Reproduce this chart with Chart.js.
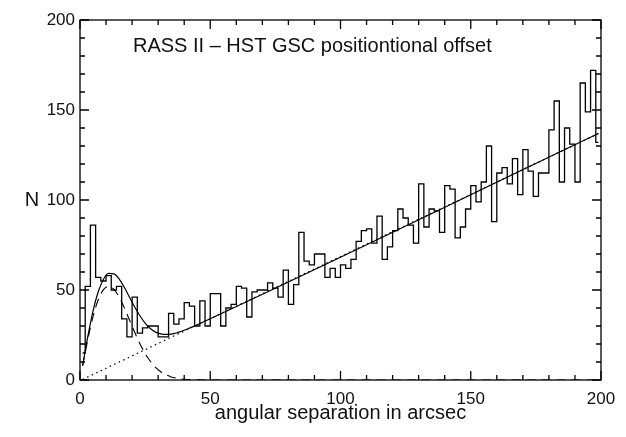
<!DOCTYPE html>
<html>
<head>
<meta charset="utf-8">
<script src="https://cdn.jsdelivr.net/npm/chart.js@4.4.0/dist/chart.umd.min.js"></script>
<style>
  html, body { margin: 0; padding: 0; background: #fff; }
  #wrap { width: 626px; height: 437px; }
</style>
</head>
<body>
<div id="wrap"><canvas id="offsetChart"></canvas></div>
<script>
// bin centres (arcsec), 2" bins
var binCenters = [
  1, 3, 5, 7, 9, 11, 13, 15, 17, 19,
  21, 23, 25, 27, 29, 31, 33, 35, 37, 39,
  41, 43, 45, 47, 49, 51, 53, 55, 57, 59,
  61, 63, 65, 67, 69, 71, 73, 75, 77, 79,
  81, 83, 85, 87, 89, 91, 93, 95, 97, 99,
  101, 103, 105, 107, 109, 111, 113, 115, 117, 119,
  121, 123, 125, 127, 129, 131, 133, 135, 137, 139,
  141, 143, 145, 147, 149, 151, 153, 155, 157, 159,
  161, 163, 165, 167, 169, 171, 173, 175, 177, 179,
  181, 183, 185, 187, 189, 191, 193, 195, 197, 199
];
var counts = [
  15, 52, 86, 57, 55, 58, 50, 52, 34, 24,
  46, 26, 29, 30, 30, 24, 24, 37, 31, 34,
  43, 41, 30, 44, 30, 48, 48, 30, 40, 42,
  52, 51, 35, 49, 50, 50, 54, 51, 46, 61,
  42, 53, 82, 66, 64, 70, 70, 57, 62, 57,
  64, 62, 67, 77, 83, 84, 76, 91, 67, 74,
  83, 95, 90, 86, 76, 109, 85, 95, 94, 82,
  108, 106, 79, 85, 95, 108, 99, 110, 130, 88,
  115, 118, 109, 123, 103, 128, 116, 102, 115, 115,
  139, 155, 110, 140, 131, 110, 165, 149, 172, 132
];

// fitted curves
var fitR = [1, 3, 5, 7, 9, 11, 13, 15, 17, 19, 21, 23, 25, 27, 29, 31, 33, 35, 37, 39, 41, 43, 45, 199];
var fitTotal = [8.1, 24.2, 38.3, 49.0, 56.0, 59.2, 59.0, 56.2, 51.5, 46.0, 40.6, 35.7, 31.6, 28.6, 26.6, 25.6, 25.3, 25.5, 26.1, 27.1, 28.2, 29.4, 30.7, 136.9];
var compR = [1, 3, 5, 7, 9, 11, 13, 15, 17, 19, 21, 23, 25, 27, 29, 31, 33, 35, 37, 39, 41, 43, 45, 47, 199];
var compValues = [7.8, 22.5, 35.2, 44.6, 50.2, 52.0, 50.4, 46.2, 40.2, 33.3, 26.5, 20.2, 14.7, 10.4, 7.0, 4.6, 2.9, 1.7, 1.0, 0.6, 0.3, 0.2, 0.1, 0, 0];
var bgR = [1, 199];
var bgValues = [0.3, 136.9];

var xTickLabels = [0, 50, 100, 150, 200];
var yTickLabels = [0, 50, 100, 150, 200];

var textFont = '"Liberation Sans", Arial, sans-serif';

function pairs(xs, ys) {
    return xs.map(function (x, i) { return { x: x, y: ys[i] }; });
}

// IDL style box: frame, inward ticks on all sides, inner title, y title
var boxAxes = {
    id: 'boxAxes',
    afterDraw: function (chart) {
        var ctx = chart.ctx;
        var a = chart.chartArea;
        var xs = chart.scales.x, ys = chart.scales.y;
        ctx.save();
        ctx.strokeStyle = '#000';
        ctx.lineWidth = 1.3;
        ctx.strokeRect(a.left, a.top, a.right - a.left, a.bottom - a.top);
        ctx.beginPath();
        xs.ticks.forEach(function (t) {
            var px = xs.getPixelForValue(t.value);
            var len = xTickLabels.indexOf(t.value) >= 0 ? 9 : 5;
            ctx.moveTo(px, a.bottom); ctx.lineTo(px, a.bottom - len);
            ctx.moveTo(px, a.top); ctx.lineTo(px, a.top + len);
        });
        ys.ticks.forEach(function (t) {
            var py = ys.getPixelForValue(t.value);
            var len = yTickLabels.indexOf(t.value) >= 0 ? 9 : 5;
            ctx.moveTo(a.left, py); ctx.lineTo(a.left + len, py);
            ctx.moveTo(a.right, py); ctx.lineTo(a.right - len, py);
        });
        ctx.stroke();

        ctx.fillStyle = '#111';
        ctx.font = '20px ' + textFont;
        ctx.textBaseline = 'middle';
        ctx.textAlign = 'left';
        ctx.fillText('RASS II \u2013 HST GSC positiontional offset', a.left + 53, a.top + 26);
        ctx.textAlign = 'center';
        ctx.fillText('N', a.left - 48, (a.top + a.bottom) / 2);
        ctx.restore();
    }
};

var ctx = document.getElementById('offsetChart');

var offsetChart = new Chart(ctx, {
    type: 'line',
    data: {
        datasets: [
            {
                data: pairs(binCenters, counts),
                stepped: 'middle',
                borderColor: '#000',
                borderWidth: 1.3,
                pointRadius: 0,
                fill: false
            },
            {
                data: pairs(fitR, fitTotal),
                borderColor: '#000',
                borderWidth: 1.2,
                cubicInterpolationMode: 'monotone',
                pointRadius: 0,
                fill: false
            },
            {
                data: pairs(compR, compValues),
                borderColor: '#000',
                borderWidth: 1.1,
                borderDash: [9, 6],
                cubicInterpolationMode: 'monotone',
                pointRadius: 0,
                fill: false
            },
            {
                data: pairs(bgR, bgValues),
                borderColor: '#000',
                borderWidth: 1.2,
                borderDash: [1.5, 3.5],
                pointRadius: 0,
                fill: false
            }
        ]
    },
    options: {
        responsive: true,
        maintainAspectRatio: false,
        animation: false,
        layout: { padding: { left: 0, right: 25, top: 20, bottom: 0 } },
        plugins: {
            legend: { display: false },
            tooltip: { enabled: false }
        },
        scales: {
            x: {
                type: 'linear',
                min: 0,
                max: 200,
                afterFit: function (scale) { scale.height = 57; },
                grid: { display: false, drawTicks: false },
                border: { display: false },
                ticks: {
                    stepSize: 10,
                    autoSkip: false,
                    maxRotation: 0,
                    padding: 9,
                    color: '#111',
                    font: { family: textFont, size: 17 },
                    callback: function (v) { return xTickLabels.indexOf(v) >= 0 ? String(v) : ''; }
                },
                title: {
                    display: true,
                    text: 'angular separation in arcsec',
                    color: '#111',
                    font: { family: textFont, size: 20 },
                    padding: { top: 0, bottom: 12 }
                }
            },
            y: {
                type: 'linear',
                min: 0,
                max: 200,
                afterFit: function (scale) { scale.width = 80; },
                grid: { display: false, drawTicks: false },
                border: { display: false },
                ticks: {
                    stepSize: 10,
                    autoSkip: false,
                    padding: 5,
                    color: '#111',
                    font: { family: textFont, size: 17 },
                    callback: function (v) { return yTickLabels.indexOf(v) >= 0 ? String(v) : ''; }
                }
            }
        }
    },
    plugins: [boxAxes]
});
</script>
</body>
</html>
